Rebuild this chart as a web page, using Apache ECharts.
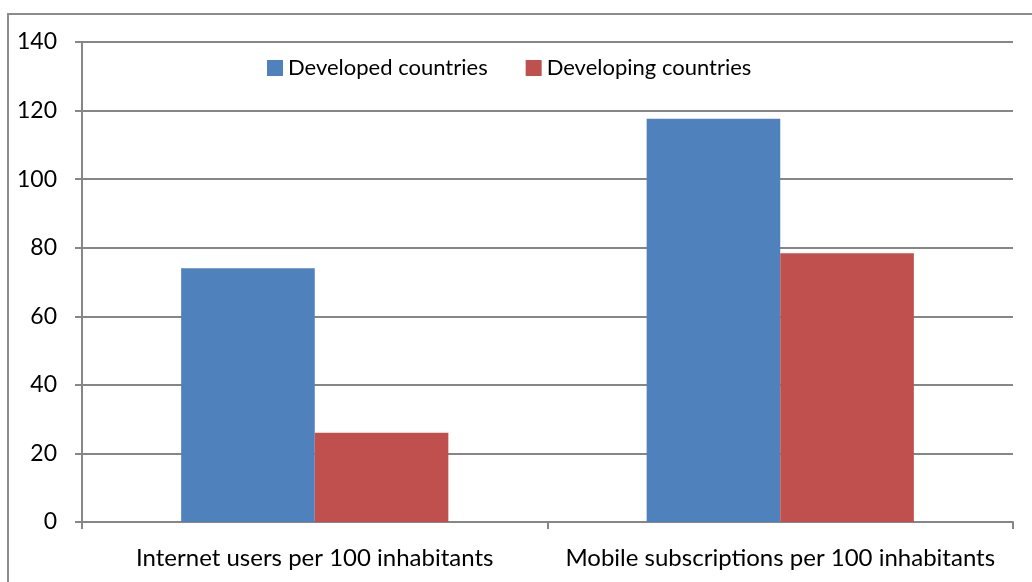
<!DOCTYPE html>
<html>
<head>
<meta charset="utf-8">
<script src="https://cdn.jsdelivr.net/npm/echarts@6/dist/echarts.min.js"></script>
<style>html,body{margin:0;padding:0;background:#fff;}#c{width:1032px;height:582px;}</style>
</head>
<body>
<div id="c"></div>
<script>
var categories = ['Internet users per 100 inhabitants', 'Mobile subscriptions per 100 inhabitants'];
var developed = [74, 117.6];
var developing = [26, 78.4];
var seriesNames = ['Developed countries', 'Developing countries'];

var FONT = 'Lato, "Noto Sans", sans-serif';
var chart = echarts.init(document.getElementById('c'));
chart.setOption({
  animation: false,
  backgroundColor: '#ffffff',
  graphic: [{
    type: 'rect', shape: {x: 8, y: 14, width: 1200, height: 700},
    style: {fill: 'none', stroke: '#8c8c8c', lineWidth: 2}, z: 0
  }],
  legend: {
    left: 262, top: 52, itemWidth: 16, itemHeight: 16, itemGap: 38,
    icon: 'rect',
    textStyle: {fontFamily: FONT, fontSize: 22, color: '#000'},
    data: seriesNames
  },
  grid: {left: 82, right: 19, top: 42, bottom: 60, containLabel: false},
  xAxis: {
    type: 'category', data: categories,
    axisLine: {lineStyle: {color: '#868686', width: 2}},
    axisTick: {show: true, length: 7, alignWithLabel: false, lineStyle: {color: '#868686', width: 2}},
    axisLabel: {fontFamily: FONT, fontSize: 24, color: '#000', margin: 24, interval: 0}
  },
  yAxis: {
    type: 'value', min: 0, max: 140, interval: 20,
    axisLine: {show: true, lineStyle: {color: '#868686', width: 2}},
    axisTick: {show: true, length: 7, lineStyle: {color: '#868686', width: 2}},
    axisLabel: {fontFamily: FONT, fontSize: 23, color: '#000', margin: 25},
    splitLine: {lineStyle: {color: '#868686', width: 2}}
  },
  series: [
    {name: seriesNames[0], type: 'bar', data: developed, barGap: '0%', barCategoryGap: '42.6%',
     itemStyle: {color: '#4F81BD'}},
    {name: seriesNames[1], type: 'bar', data: developing, barGap: '0%', barCategoryGap: '42.6%',
     itemStyle: {color: '#C0504D'}}
  ]
});
</script>
</body>
</html>
